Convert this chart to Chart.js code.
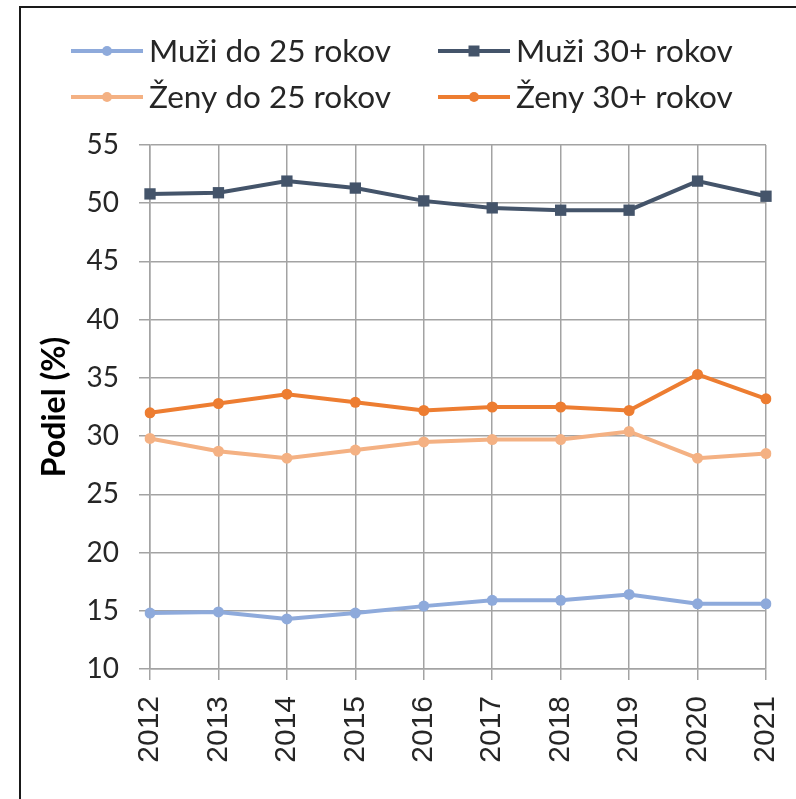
<!DOCTYPE html>
<html>
<head>
<meta charset="utf-8">
<script src="https://cdn.jsdelivr.net/npm/chart.js@4/dist/chart.umd.min.js"></script>
<style>
  html, body { margin: 0; padding: 0; background: #fff; }
  #frame { position: absolute; left: 19px; top: 6px; width: 800px; height: 800px;
           border-left: 2px solid #1a1a1a; border-top: 2px solid #1a1a1a; }
  #wrap { position: absolute; left: 0; top: 0; width: 796px; height: 799px; }
</style>
</head>
<body>
<div id="frame"></div>
<div id="wrap"><canvas id="myChart" width="796" height="799"></canvas></div>
<script>
// years on the x axis
const years = ['2012', '2013', '2014', '2015', '2016', '2017', '2018', '2019', '2020', '2021'];

// shares in %
const muziDo25 = [14.8, 14.9, 14.3, 14.8, 15.4, 15.9, 15.9, 16.4, 15.6, 15.6];
const muzi30 = [50.8, 50.9, 51.9, 51.3, 50.2, 49.6, 49.4, 49.4, 51.9, 50.6];
const zenyDo25 = [29.8, 28.7, 28.1, 28.8, 29.5, 29.7, 29.7, 30.4, 28.1, 28.5];
const zeny30 = [32.0, 32.8, 33.6, 32.9, 32.2, 32.5, 32.5, 32.2, 35.3, 33.2];

const yTicks = [10, 15, 20, 25, 30, 35, 40, 45, 50, 55];

const gridColor = '#a3a3a3';
const textColor = '#262626';

// legend in two columns like the excel original
const legendPlugin = {
    id: 'twoColLegend',
    afterDraw(chart) {
        const ctx = chart.ctx;
        const cols = [71, 438];
        const rows = [51, 97];
        ctx.save();
        ctx.font = '31.5px Lato';
        ctx.textBaseline = 'middle';
        chart.data.datasets.forEach((ds, i) => {
            const x = cols[i % 2];
            const y = rows[Math.floor(i / 2)];
            ctx.strokeStyle = ds.borderColor;
            ctx.lineWidth = 4;
            ctx.beginPath();
            ctx.moveTo(x, y);
            ctx.lineTo(x + 72, y);
            ctx.stroke();
            ctx.fillStyle = ds.pointBackgroundColor;
            ctx.beginPath();
            if (ds.pointStyle === 'rect') {
                ctx.rect(x + 36 - 5.5, y - 5.5, 11, 11);
            } else {
                ctx.arc(x + 36, y, 5, 0, Math.PI * 2);
            }
            ctx.fill();
            ctx.fillStyle = textColor;
            ctx.fillText(ds.label, x + 78, y + 1);
        });
        ctx.restore();
    }
};

var ctx = document.getElementById('myChart').getContext('2d');
var myChart = new Chart(ctx, {
    type: 'line',
    data: {
        labels: years,
        datasets: [{
            label: 'Muži do 25 rokov',
            data: muziDo25,
            borderColor: '#8eaadb',
            pointBackgroundColor: '#8eaadb',
            pointBorderColor: '#8eaadb',
            pointStyle: 'circle',
            pointRadius: 5.5
        }, {
            label: 'Muži 30+ rokov',
            data: muzi30,
            borderColor: '#44546a',
            pointBackgroundColor: '#44546a',
            pointBorderColor: '#44546a',
            pointStyle: 'rect',
            pointRadius: 8
        }, {
            label: 'Ženy do 25 rokov',
            data: zenyDo25,
            borderColor: '#f4b183',
            pointBackgroundColor: '#f4b183',
            pointBorderColor: '#f4b183',
            pointStyle: 'circle',
            pointRadius: 5.5
        }, {
            label: 'Ženy 30+ rokov',
            data: zeny30,
            borderColor: '#ed7d31',
            pointBackgroundColor: '#ed7d31',
            pointBorderColor: '#ed7d31',
            pointStyle: 'circle',
            pointRadius: 5.5
        }]
    },
    options: {
        responsive: false,
        animation: false,
        datasets: {
            line: { borderWidth: 4, pointBorderWidth: 0, tension: 0, fill: false }
        },
        layout: { padding: { top: 145, right: 30, bottom: 0, left: 0 } },
        plugins: {
            legend: { display: false },
            tooltip: { enabled: false }
        },
        scales: {
            x: {
                offset: false,
                grid: { color: gridColor, lineWidth: 1.5, tickLength: 11, offset: false },
                border: { color: gridColor, width: 1.5 },
                ticks: {
                    color: textColor,
                    font: { family: 'Liberation Sans', size: 30 },
                    minRotation: 90, maxRotation: 90,
                    padding: 16
                },
                afterFit(scale) {
                    scale.height = 130;
                    scale.paddingLeft = 0;
                    scale.paddingRight = 0;
                }
            },
            y: {
                min: 10,
                max: 55,
                afterBuildTicks(scale) { scale.ticks = yTicks.map(v => ({ value: v })); },
                grid: { color: gridColor, lineWidth: 1.5, tickLength: 11 },
                border: { color: gridColor, width: 1.5 },
                ticks: {
                    color: textColor,
                    font: { family: 'Lato', size: 28 },
                    padding: 20
                },
                title: {
                    display: true,
                    text: 'Podiel (%)',
                    color: '#000',
                    font: { family: 'Lato', size: 32, weight: 'bold', lineHeight: 1 },
                    padding: { top: 39, bottom: 0 }
                },
                afterFit(scale) {
                    scale.width = 150;
                    scale.paddingTop = 0;
                    scale.paddingBottom = 0;
                }
            }
        }
    },
    plugins: [legendPlugin]
});
</script>
</body>
</html>
